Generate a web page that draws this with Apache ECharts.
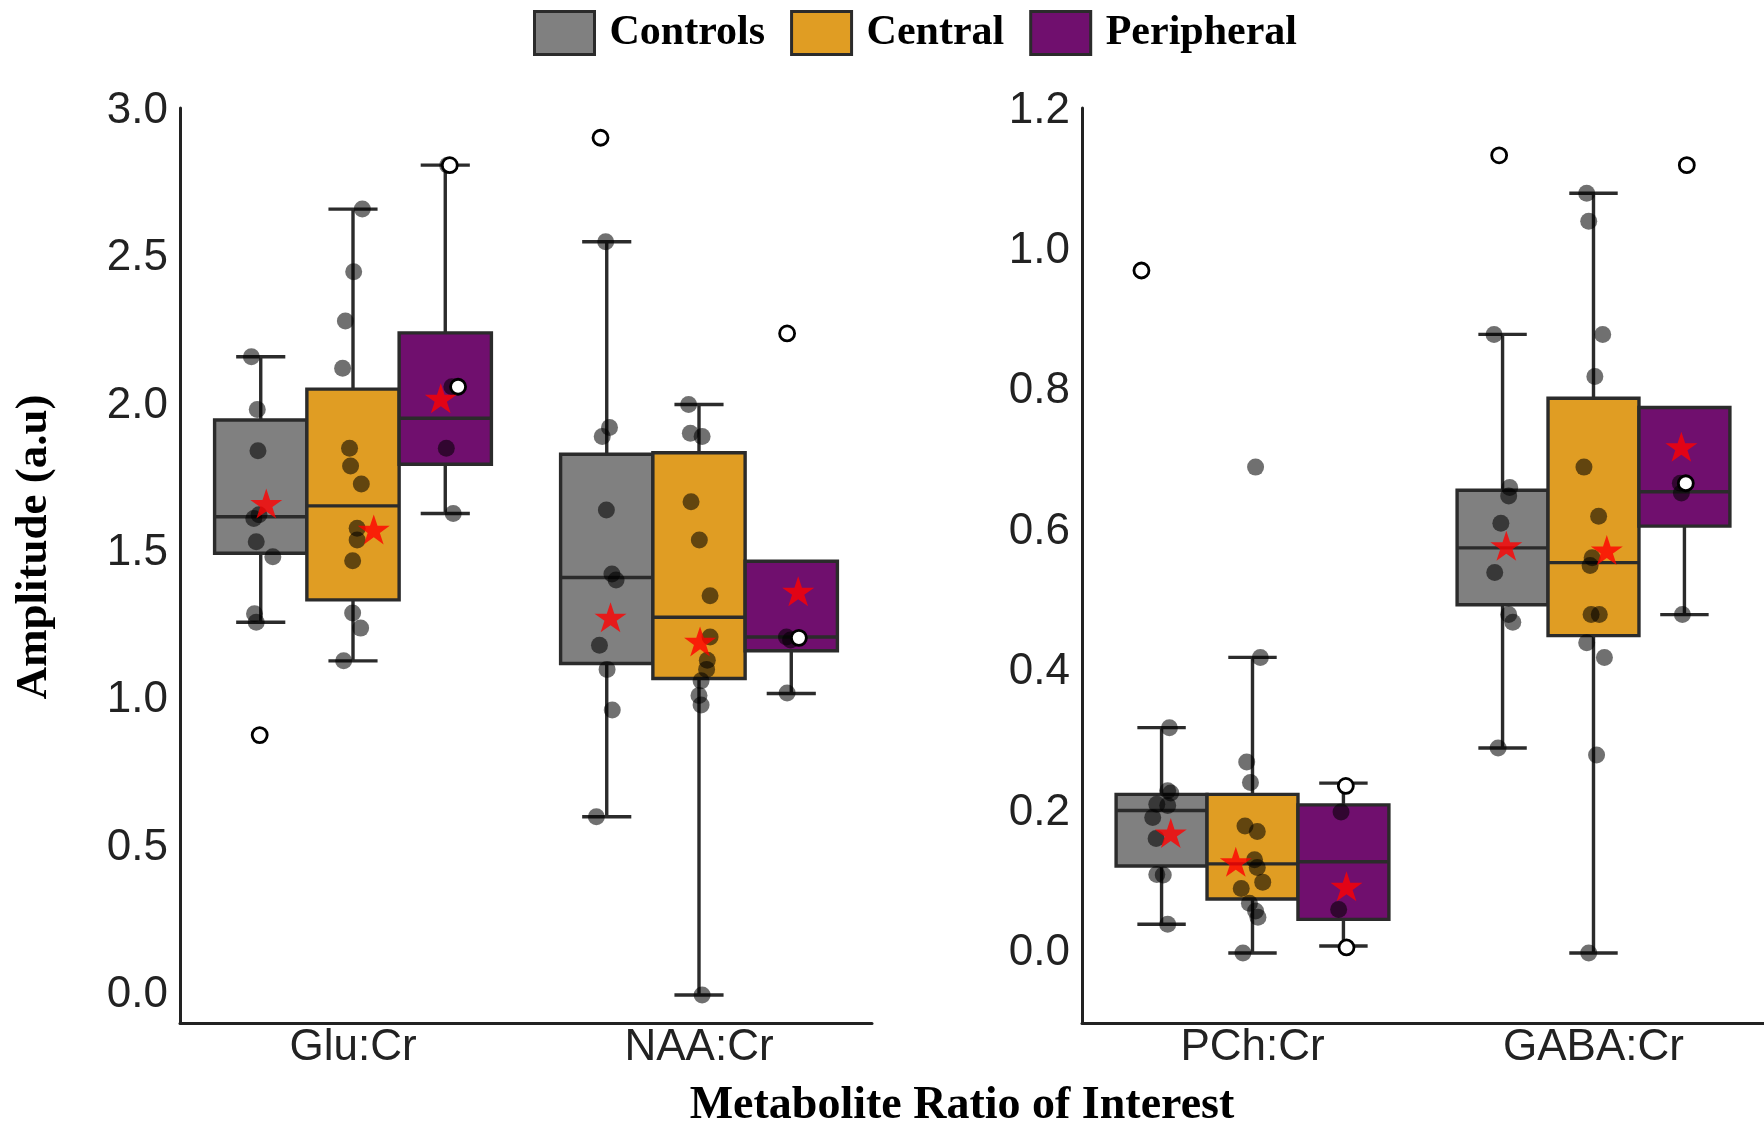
<!DOCTYPE html>
<html>
<head>
<meta charset="utf-8">
<script src="https://cdn.jsdelivr.net/npm/echarts@6/dist/echarts.min.js"></script>
<style>html,body{margin:0;padding:0;background:#fff;}#c{width:1764px;height:1128px;}</style>
</head>
<body>
<div id="c"></div>
<script>
// ---- data ----
const categories = ['Glu:Cr', 'NAA:Cr', 'PCh:Cr', 'GABA:Cr'];
const groups = ['Controls', 'Central', 'Peripheral'];
const leftTicks = [0, 0.5, 1.0, 1.5, 2.0, 2.5, 3.0];
const rightTicks = [0, 0.2, 0.4, 0.6, 0.8, 1.0, 1.2];

// box stats per metabolite: [lowerWhisker, Q1, median, Q3, upperWhisker]
const boxControls = [[1.265, 1.499, 1.623, 1.951, 2.166], [0.605, 1.125, 1.417, 1.835, 2.556], [0.041, 0.124, 0.203, 0.226, 0.321], [0.292, 0.496, 0.577, 0.659, 0.881]];
const boxCentral = [[1.134, 1.341, 1.660, 2.056, 2.667], [0.0, 1.074, 1.282, 1.840, 2.004], [0.0, 0.077, 0.127, 0.226, 0.421], [0.0, 0.452, 0.556, 0.790, 1.082]];
const boxPeripheral = [[1.634, 1.801, 1.957, 2.247, 2.816], [1.023, 1.168, 1.215, 1.472, 1.215], [0.010, 0.048, 0.130, 0.211, 0.242], [0.482, 0.608, 0.657, 0.777, 0.669]];

// means (red stars) and their horizontal jitter (axis units)
const meanControls = [1.668, 1.282, 0.171, 0.580];
const meanCentral = [1.580, 1.200, 0.130, 0.574];
const meanPeripheral = [2.025, 1.370, 0.095, 0.721];
const meanJitterControls = [0.016, 0.011, 0.027, 0.011];
const meanJitterCentral = [0.060, 0.003, -0.049, 0.039];
const meanJitterPeripheral = [-0.013, 0.020, 0.009, -0.009];

// jittered points: [jitter (axis units), value]
const ptsControls = [
  [[-0.027, 2.166], [-0.010, 1.987], [-0.008, 1.847], [-0.005, 1.630], [-0.020, 1.617], [-0.013, 1.538], [0.035, 1.487], [-0.018, 1.294], [-0.013, 1.265]],
  [[-0.003, 2.556], [0.008, 1.926], [-0.013, 1.895], [-0.001, 1.646], [0.015, 1.429], [0.027, 1.408], [-0.021, 1.187], [0.001, 1.105], [0.016, 0.967], [-0.030, 0.605]],
  [[0.023, 0.321], [0.018, 0.231], [0.027, 0.228], [-0.014, 0.212], [0.018, 0.210], [-0.026, 0.193], [-0.016, 0.163], [-0.014, 0.112], [0.005, 0.111], [0.018, 0.041]],
  [[-0.025, 0.881], [0.021, 0.663], [0.018, 0.651], [-0.005, 0.612], [-0.023, 0.542], [0.018, 0.482], [0.030, 0.471], [-0.013, 0.292]]
];
const ptsCentral = [
  [[0.027, 2.667], [0.002, 2.454], [-0.022, 2.287], [-0.030, 2.127], [-0.010, 1.855], [-0.007, 1.795], [0.024, 1.734], [0.012, 1.584], [0.012, 1.544], [-0.001, 1.474], [-0.001, 1.296], [0.022, 1.245], [-0.027, 1.134]],
  [[-0.030, 2.004], [-0.025, 1.906], [0.009, 1.895], [-0.023, 1.674], [0.001, 1.544], [0.032, 1.355], [0.032, 1.215], [0.024, 1.136], [0.022, 1.105], [0.006, 1.066], [0.000, 1.016], [0.006, 0.984], [0.009, 0.0]],
  [[0.023, 0.421], [-0.017, 0.272], [-0.006, 0.243], [-0.022, 0.181], [0.014, 0.173], [0.006, 0.133], [0.014, 0.122], [0.030, 0.101], [-0.033, 0.092], [-0.009, 0.071], [0.009, 0.060], [0.016, 0.051], [-0.028, 0.0], [0.009, 0.692]],
  [[-0.020, 1.082], [-0.014, 1.042], [0.027, 0.881], [0.004, 0.821], [-0.028, 0.692], [0.015, 0.622], [-0.004, 0.563], [-0.010, 0.552], [-0.007, 0.482], [0.017, 0.482], [-0.020, 0.442], [0.032, 0.421], [0.009, 0.282], [-0.014, 0.0]]
];
const ptsPeripheral = [
  [[0.007, 2.816], [0.019, 2.064], [0.003, 1.855], [0.023, 1.634]],
  [[-0.014, 1.215], [-0.002, 1.205], [-0.012, 1.025]],
  [[-0.007, 0.201], [-0.014, 0.062]],
  [[-0.012, 0.669], [-0.009, 0.655], [-0.006, 0.482]]
];
// open (white) circles: [jitter, value]
const openControls = [[[-0.003, 0.882]], [[-0.018, 2.909]], [[-0.059, 0.972]], [[-0.010, 1.136]]];
const openCentral = [[], [], [], []];
const openPeripheral = [[[0.013, 2.816], [0.037, 2.064]], [[0.022, 1.212], [-0.012, 2.245]], [[0.007, 0.238], [0.009, 0.008]], [[0.004, 0.669], [0.007, 1.122]]];

// ---- chart ----
const boxes = [boxControls, boxCentral, boxPeripheral];
const means = [meanControls, meanCentral, meanPeripheral];
const meanJit = [meanJitterControls, meanJitterCentral, meanJitterPeripheral];
const pts = [ptsControls, ptsCentral, ptsPeripheral];
const opens = [openControls, openCentral, openPeripheral];
const fills = ['#808080', '#E09D23', '#700F6E'];
const BOX_W = 0.8 / 3;
const CAP_W = 0.142;
const DODGE = [-BOX_W, 0, BOX_W];
const EDGE = '#2b2b2b';
const LW = 3.4;
const STAR = 'path://M50 0 L61.23 34.55 L97.55 34.55 L68.16 55.9 L79.39 90.45 L50 69.1 L20.61 90.45 L31.84 55.9 L2.45 34.55 L38.77 34.55 Z';

function renderBox(params, api) {
  const x = api.value(0);
  const vmin = api.value(1), q1 = api.value(2), med = api.value(3), q3 = api.value(4), vmax = api.value(5);
  const cx = api.coord([x, q1])[0];
  const y = v => api.coord([x, v])[1];
  const hw = api.size([BOX_W, 0])[0] / 2;
  const ch = api.size([CAP_W, 0])[0] / 2;
  const ls = { stroke: EDGE, lineWidth: LW };
  return {
    type: 'group',
    children: [
      { type: 'line', shape: { x1: cx, y1: y(q3), x2: cx, y2: y(vmax) }, style: ls },
      { type: 'line', shape: { x1: cx, y1: y(q1), x2: cx, y2: y(vmin) }, style: ls },
      { type: 'line', shape: { x1: cx - ch, y1: y(vmax), x2: cx + ch, y2: y(vmax) }, style: ls },
      { type: 'line', shape: { x1: cx - ch, y1: y(vmin), x2: cx + ch, y2: y(vmin) }, style: ls },
      { type: 'rect', shape: { x: cx - hw, y: y(q3), width: 2 * hw, height: y(q1) - y(q3) }, style: { fill: api.visual('color'), stroke: EDGE, lineWidth: LW } },
      { type: 'line', shape: { x1: cx - hw, y1: y(med), x2: cx + hw, y2: y(med) }, style: ls }
    ]
  };
}

const series = [];
for (let g = 0; g < 3; g++) {
  for (let p = 0; p < 2; p++) {
    const idx = [2 * p, 2 * p + 1];
    const boxData = [], ptData = [], openData = [], meanData = [];
    idx.forEach((i, k) => {
      const pos = k + 1 + DODGE[g];
      boxData.push([pos].concat(boxes[g][i]));
      pts[g][i].forEach(d => ptData.push([pos + d[0], d[1]]));
      opens[g][i].forEach(d => openData.push([pos + d[0], d[1]]));
      meanData.push([pos + meanJit[g][i], means[g][i]]);
    });
    series.push({
      name: groups[g], type: 'custom', xAxisIndex: p, yAxisIndex: p, z: 2,
      renderItem: renderBox, itemStyle: { color: fills[g] },
      encode: { x: 0, y: [1, 2, 3, 4, 5] }, data: boxData
    });
    series.push({
      name: 'pts' + g, type: 'scatter', xAxisIndex: p, yAxisIndex: p, z: 3,
      symbol: 'circle', symbolSize: 17, itemStyle: { color: 'rgba(0,0,0,0.7)' }, data: ptData
    });
    series.push({
      name: 'open' + g, type: 'scatter', xAxisIndex: p, yAxisIndex: p, z: 4,
      symbol: 'circle', symbolSize: 15, itemStyle: { color: '#fff', borderColor: '#000', borderWidth: 2.8, opacity: 1 }, data: openData
    });
    series.push({
      name: 'mean' + g, type: 'scatter', xAxisIndex: p, yAxisIndex: p, z: 5,
      symbol: STAR, symbolSize: [32, 30], itemStyle: { color: '#FF0000' }, data: meanData
    });
  }
}

const tickFont = { fontSize: 44, color: '#222', fontFamily: 'Liberation Sans, Arial, sans-serif' };
function xAxis(p) {
  return {
    type: 'value', gridIndex: p, min: 0.5, max: 2.5,
    axisLine: { show: true, onZero: false, lineStyle: { color: '#222', width: 3 } },
    axisTick: { show: false }, splitLine: { show: false },
    axisLabel: Object.assign({ customValues: [1, 2], margin: 3, formatter: v => categories[2 * p + Math.round(v) - 1] }, tickFont)
  };
}
function yAxis(p, min, max, ticks) {
  return {
    type: 'value', gridIndex: p, min: min, max: max,
    axisLine: { show: true, onZero: false, lineStyle: { color: '#222', width: 3 } },
    axisTick: { show: false }, splitLine: { show: false },
    axisLabel: Object.assign({ customValues: ticks, margin: 12, formatter: v => v.toFixed(1) }, tickFont)
  };
}

const chart = echarts.init(document.getElementById('c'), null, { renderer: 'canvas' });
chart.setOption({
  animation: false,
  backgroundColor: '#fff',
  grid: [
    { left: 180, top: 108, width: 692, height: 915 },
    { left: 1082, top: 108, width: 691, height: 915 }
  ],
  xAxis: [xAxis(0), xAxis(1)],
  yAxis: [yAxis(0, -0.095, 3.01, leftTicks), yAxis(1, -0.0996, 1.2034, rightTicks)],
  legend: {
    left: 528, top: 5, itemWidth: 60, itemHeight: 43, itemGap: 25,
    icon: 'rect', selectedMode: false,
    textStyle: { fontSize: 42, fontWeight: 'bold', fontFamily: 'Liberation Serif, Times New Roman, serif', color: '#000', padding: [0, 0, 0, 10] },
    data: groups.map((n, g) => ({ name: n, itemStyle: { color: fills[g], borderColor: EDGE, borderWidth: 3 } }))
  },
  graphic: [
    { type: 'text', x: 962, y: 1106, style: { text: 'Metabolite Ratio of Interest', font: 'bold 46px "Liberation Serif", serif', fill: '#000', textAlign: 'center', textVerticalAlign: 'middle' } },
    { type: 'text', x: 34, y: 547, rotation: Math.PI / 2, style: { text: 'Amplitude (a.u)', font: 'bold 45px "Liberation Serif", serif', fill: '#000', textAlign: 'center', textVerticalAlign: 'middle' } }
  ],
  series: series
});
</script>
</body>
</html>
